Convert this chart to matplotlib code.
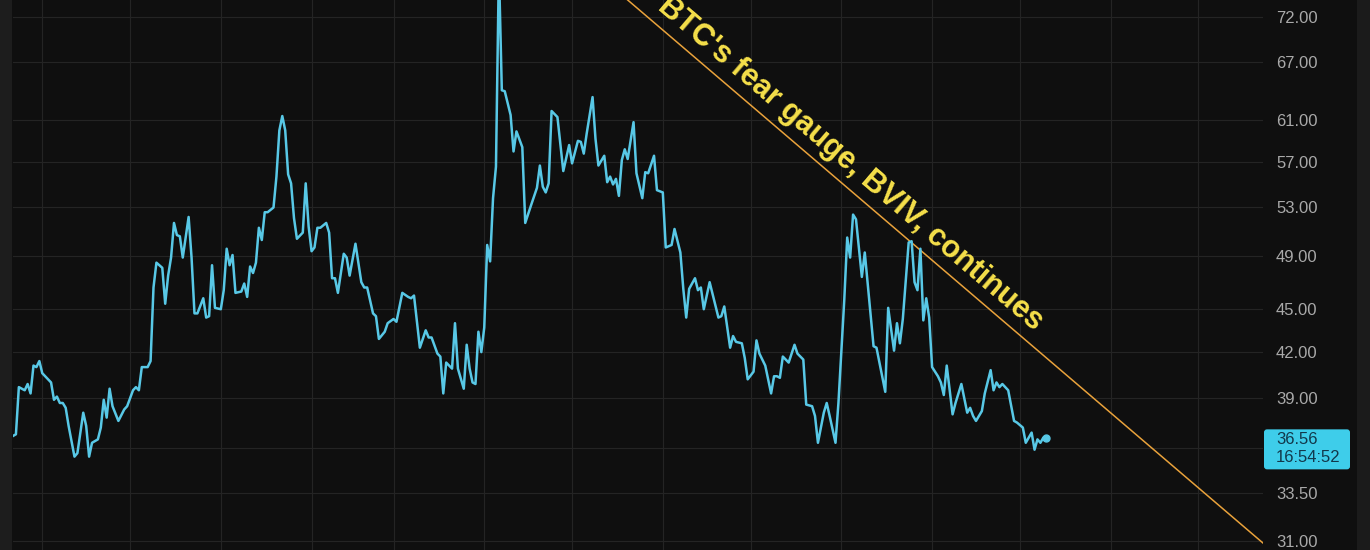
import numpy as np
import pandas as pd
import matplotlib
matplotlib.use("Agg")
import matplotlib.pyplot as plt
import matplotlib.dates as mdates
from matplotlib.patches import Rectangle, FancyBboxPatch
from matplotlib.ticker import FixedLocator, NullLocator, FuncFormatter

plt.rcParams['font.family'] = ['Liberation Sans', 'DejaVu Sans']

# daily BVIV closes (day offsets from start)
start = pd.Timestamp("2024-10-22")
days = [0, 1, 2, 3, 4, 5, 6, 7, 8, 9,
        10, 12, 13, 14, 15, 16, 17, 18, 19, 21,
        22, 24, 25, 26, 27, 29, 30, 31, 32, 33,
        34, 36, 38, 39, 40, 41, 42, 43, 44, 46,
        47, 48, 49, 51, 52, 53, 54, 55, 56, 57,
        58, 60, 61, 62, 63, 65, 66, 67, 68, 69,
        71, 72, 73, 74, 75, 76, 78, 79, 80, 81,
        82, 83, 84, 85, 86, 87, 89, 90, 91, 92,
        93, 94, 95, 96, 97, 99, 100, 101, 102, 103,
        104, 105, 107, 108, 109, 110, 111, 113, 114, 115,
        117, 119, 120, 121, 123, 124, 125, 127, 128, 130,
        131, 133, 135, 136, 137, 139, 141, 142, 143, 145,
        146, 147, 148, 150, 151, 152, 154, 155, 156, 157,
        158, 159, 160, 161, 162, 163, 164, 165, 166, 167,
        168, 170, 171, 172, 174, 175, 177, 179, 180, 181,
        182, 183, 184, 186, 188, 190, 191, 193, 194, 195,
        196, 198, 199, 200, 202, 203, 204, 205, 206, 207,
        208, 209, 210, 212, 213, 215, 216, 217, 219, 220,
        222, 223, 225, 226, 228, 229, 230, 231, 233, 234,
        235, 236, 238, 241, 242, 243, 245, 246, 247, 249,
        250, 251, 253, 254, 255, 257, 259, 260, 261, 262,
        263, 265, 267, 268, 270, 271, 273, 274, 275, 277,
        278, 279, 281, 282, 284, 285, 286, 287, 288, 290,
        291, 294, 295, 298, 299, 301, 302, 303, 304, 306,
        307, 308, 309, 310, 311, 312, 313, 314, 316, 317,
        318, 319, 321, 322, 324, 326, 327, 328, 329, 331,
        332, 334, 335, 336, 337, 338, 340, 342, 343, 345,
        346, 348, 349, 350, 351, 352, 353]
bviv = [36.7, 36.8, 39.7, 39.6, 39.5, 39.9, 39.3, 41.1, 41.0, 41.4,
        40.6, 40.2, 40.0, 38.9, 39.1, 38.7, 38.7, 38.4, 37.3, 35.5,
        35.7, 38.1, 37.3, 35.5, 36.3, 36.5, 37.2, 38.9, 37.8, 39.6,
        38.5, 37.6, 38.3, 38.5, 39.0, 39.5, 39.7, 39.5, 41.0, 41.0,
        41.4, 46.6, 48.5, 48.1, 45.4, 47.5, 48.9, 51.7, 50.7, 50.6,
        48.9, 52.2, 48.9, 44.7, 44.7, 45.8, 44.4, 44.5, 48.3, 45.1,
        45.0, 46.4, 49.6, 48.3, 49.1, 46.2, 46.3, 46.9, 45.9, 48.2,
        47.7, 48.5, 51.3, 50.3, 52.6, 52.6, 53.0, 55.7, 60.0, 61.4,
        60.0, 55.9, 55.1, 52.1, 50.4, 50.9, 55.1, 51.4, 49.4, 49.7,
        51.3, 51.3, 51.7, 50.9, 47.3, 47.3, 46.2, 49.2, 48.9, 47.5,
        50.0, 47.0, 46.6, 46.6, 44.7, 44.5, 42.9, 43.4, 44.0, 44.3,
        44.1, 46.2, 45.9, 45.8, 46.0, 42.3, 43.5, 43.0, 43.0, 41.9,
        41.7, 39.3, 41.3, 40.9, 44.0, 40.9, 39.6, 42.5, 40.9, 40.0,
        39.9, 43.4, 42.0, 43.7, 49.9, 48.6, 53.8, 56.6, 78.0, 64.0,
        63.9, 61.5, 58.0, 59.9, 58.4, 51.7, 53.2, 54.7, 56.7, 54.8,
        54.3, 55.1, 61.9, 61.3, 56.2, 58.6, 56.9, 59.0, 58.9, 57.8,
        59.7, 63.3, 59.2, 56.7, 57.6, 55.2, 55.7, 55.0, 55.5, 54.0,
        57.2, 58.2, 57.3, 60.8, 56.0, 53.8, 56.1, 56.0, 57.6, 54.5,
        54.3, 49.7, 49.9, 51.2, 49.3, 46.5, 44.4, 46.5, 47.3, 46.4,
        46.6, 45.0, 47.0, 44.4, 44.5, 45.2, 42.3, 43.1, 42.7, 42.6,
        41.6, 40.2, 40.7, 42.8, 41.9, 41.1, 39.3, 40.4, 40.4, 40.3,
        41.7, 41.3, 42.5, 41.9, 41.5, 38.6, 38.5, 37.9, 36.3, 38.1,
        38.7, 37.9, 36.3, 38.7, 45.7, 50.5, 48.9, 52.4, 52.0, 47.4,
        49.3, 42.4, 42.3, 39.4, 45.1, 42.1, 44.0, 42.6, 44.3, 50.1,
        50.2, 47.0, 46.4, 49.6, 44.2, 45.8, 44.4, 41.0, 40.4, 40.0,
        39.2, 41.1, 38.0, 38.7, 39.9, 38.1, 38.4, 37.9, 37.6, 38.2,
        39.3, 40.8, 39.5, 40.0, 39.7, 39.9, 39.5, 37.6, 37.5, 37.2,
        36.3, 36.9, 35.9, 36.5, 36.3, 36.6, 36.56]
last_price = 36.56
countdown = "16:54:52"

# hand-drawn downtrend line
trend_days = [210, 427]
trend_vals = [74.0, 30.9]
note = "BTC's fear gauge, BVIV, continues"

y_ticks = [31, 33.5, 36, 39, 42, 45, 49, 53, 57, 61, 67, 72]

BG = "#0f0f0f"
LINE = "#58c8e6"
ORANGE = "#e9a23b"
YELLOW = "#f6e04a"
BOX = "#3ecdea"

W, H = 1370, 550
fig = plt.figure(figsize=(W / 100, H / 100), dpi=100, facecolor=BG)
ax = fig.add_axes([13 / W, 0, 1250 / W, 1])
ax.set_facecolor(BG)

x = start + pd.to_timedelta(days, unit="D")
ax.plot(x, bviv, color=LINE, lw=1.8, zorder=3)
ax.plot(x[-1:], bviv[-1:], "o", ms=5, color=LINE, zorder=4)

tx = start + pd.to_timedelta(trend_days, unit="D")
ax.plot(tx, trend_vals, color=ORANGE, lw=1.1, zorder=2)

ax.set_yscale("log")
ax.set_ylim(30.55, 74.0)
ax.set_xlim(start, start + pd.Timedelta(days=427.05))

ax.yaxis.set_major_locator(FixedLocator(y_ticks))
ax.yaxis.set_minor_locator(NullLocator())
ax.yaxis.set_major_formatter(FuncFormatter(lambda v, p: "" if v == 36 else f"{v:.2f}"))
ax.yaxis.tick_right()
ax.tick_params(axis="y", length=0, pad=9.4, labelsize=12, labelcolor="#a9a9a9")
ax.xaxis.set_major_locator(mdates.MonthLocator())
ax.tick_params(axis="x", length=0, labelbottom=False)
ax.grid(True, color="#242424", lw=0.8)
for s in ax.spines.values():
    s.set_visible(False)

# label along the trend line
tn = mdates.date2num(tx)
frac = 0.33
ax_x = tn[0] + frac * (tn[1] - tn[0])
ax_y = np.exp(np.log(trend_vals[0]) + frac * (np.log(trend_vals[1]) - np.log(trend_vals[0])))
p0 = ax.transData.transform((tn[0], trend_vals[0]))
p1 = ax.transData.transform((tn[1], trend_vals[1]))
ang = np.degrees(np.arctan2(p1[1] - p0[1], p1[0] - p0[0]))
nx, ny = -np.sin(np.radians(ang)), np.cos(np.radians(ang))
ax.annotate(note, xy=(ax_x, ax_y), xytext=(nx * 12, ny * 12), textcoords="offset pixels",
            rotation=ang, rotation_mode="anchor", ha="center", va="baseline",
            fontsize=22, fontweight="bold", color=YELLOW, annotation_clip=False, zorder=5)

# side strips
fig.add_artist(Rectangle((0, 0), 12 / W, 1, transform=fig.transFigure, fc="#1d1d1d", ec="none"))
fig.add_artist(Rectangle((1357 / W, 0), 13 / W, 1, transform=fig.transFigure, fc="#1b1b1b", ec="none"))

# last price tag
vy = ax.transData.transform((mdates.date2num(x[-1]), last_price))[1]
tag = FancyBboxPatch((1264, vy - 31), 86, 40, boxstyle="round,pad=0,rounding_size=3",
                     transform=None, fc=BOX, ec="none", zorder=6)
fig.add_artist(tag)
fig.text(1276 / W, (vy - 1) / H, f"{last_price:.2f}", fontsize=12, color="#12384b",
         va="center", ha="left", zorder=7)
fig.text(1276 / W, (vy - 19) / H, countdown, fontsize=12, color="#12384b",
         va="center", ha="left", zorder=7)

fig.savefig("out.png", dpi=100, facecolor=BG)
